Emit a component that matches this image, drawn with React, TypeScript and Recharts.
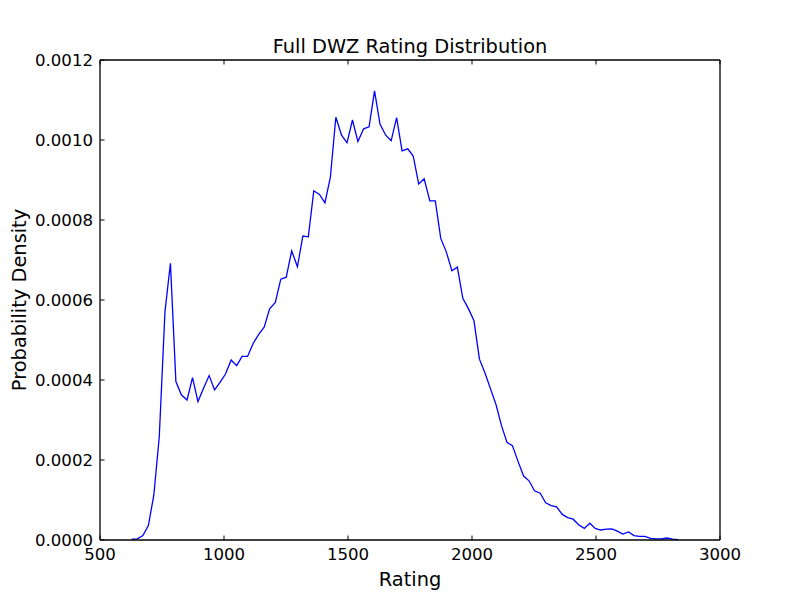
import React from 'react';
import { LineChart, Line, XAxis, YAxis } from 'recharts';

// bin centres of the rating histogram
const ratings = [
  628, 650, 673, 695, 717, 739, 762, 784, 806, 828,
  851, 873, 895, 917, 940, 962, 984, 1006, 1029, 1051,
  1073, 1095, 1118, 1140, 1162, 1184, 1207, 1229, 1251, 1273,
  1296, 1318, 1340, 1362, 1385, 1407, 1429, 1451, 1474, 1496,
  1518, 1540, 1563, 1585, 1607, 1629, 1652, 1674, 1696, 1718,
  1741, 1763, 1785, 1807, 1830, 1852, 1874, 1896, 1919, 1941,
  1963, 1985, 2008, 2030, 2052, 2074, 2097, 2119, 2141, 2163,
  2186, 2208, 2230, 2252, 2275, 2297, 2319, 2341, 2364, 2386,
  2408, 2430, 2453, 2475, 2497, 2519, 2542, 2564, 2586, 2608,
  2631, 2653, 2675, 2697, 2720, 2742, 2764, 2786, 2809, 2831,
];

const density = [
  0.000002, 0.000003, 0.000011, 0.000036, 0.000112, 0.000258, 0.000571, 0.000692, 0.000396, 0.000363,
  0.00035, 0.000406, 0.000346, 0.000379, 0.000411, 0.000375, 0.000394, 0.000415, 0.00045, 0.000436,
  0.000459, 0.000459, 0.000492, 0.000514, 0.000532, 0.000578, 0.000594, 0.000652, 0.000657, 0.000723,
  0.000683, 0.00076, 0.000758, 0.000873, 0.000864, 0.000843, 0.000907, 0.001057, 0.001012, 0.000993,
  0.00105, 0.000996, 0.001028, 0.001033, 0.001123, 0.00104, 0.001012, 0.000998, 0.001056, 0.000973,
  0.000978, 0.00096, 0.00089, 0.000903, 0.000848, 0.000848, 0.000754, 0.000721, 0.000673, 0.000682,
  0.000604, 0.000579, 0.000548, 0.000452, 0.000418, 0.000379, 0.000338, 0.000286, 0.000244, 0.000236,
  0.000196, 0.00016, 0.000148, 0.000123, 0.000117, 0.000093, 0.000086, 0.000083, 0.000064, 0.000056,
  0.000052, 0.000038, 0.000029, 0.000042, 0.000029, 0.000025, 0.000027, 0.000028, 0.000022, 0.000015,
  0.00002, 0.000011, 0.000009, 0.000009, 0.000004, 0.000003, 0.000003, 0.000005, 0.000002, 0.000001,
];

const xTicks = [500, 1000, 1500, 2000, 2500, 3000];
const yTicks = [0, 0.0002, 0.0004, 0.0006, 0.0008, 0.001, 0.0012];

const data = ratings.map((r, i) => ({ rating: r, density: density[i] }));

const FONT = '"DejaVu Sans", sans-serif';
const TICK_LEN = 4.5;
const AXIS_LINE = { stroke: '#000', strokeWidth: 1.3 };

const BottomTick = (props: any) => {
  const { x, y, payload } = props;
  return (
    <g>
      <line x1={x} x2={x} y1={y} y2={y - TICK_LEN} stroke="#000" />
      <text x={x} y={y + 19.5} textAnchor="middle" fontSize={16.6} fontFamily={FONT} fill="#000">
        {payload.value}
      </text>
    </g>
  );
};

const LeftTick = (props: any) => {
  const { x, y, payload } = props;
  return (
    <g>
      <line x1={x} x2={x + TICK_LEN} y1={y} y2={y} stroke="#000" />
      <text x={x - 7} y={y + 6} textAnchor="end" fontSize={16.6} fontFamily={FONT} fill="#000">
        {Number(payload.value).toFixed(4)}
      </text>
    </g>
  );
};

const TopTick = (props: any) => {
  const { x, y } = props;
  return <line x1={x} x2={x} y1={y} y2={y + TICK_LEN} stroke="#000" />;
};

const RightTick = (props: any) => {
  const { x, y } = props;
  return <line x1={x} x2={x - TICK_LEN} y1={y} y2={y} stroke="#000" />;
};

export default function App() {
  return (
    <div style={{ position: 'absolute', left: 0, top: 0, width: 800, height: 600, background: '#fff' }}>
      <LineChart width={800} height={600} data={data} margin={{ top: 59, right: 79, bottom: 0, left: 0 }}>
        <XAxis
          dataKey="rating"
          type="number"
          domain={[500, 3000]}
          ticks={xTicks}
          interval={0}
          height={60}
          tickSize={0}
          tickMargin={0}
          tick={<BottomTick />}
          axisLine={AXIS_LINE}
        />
        <XAxis
          xAxisId="top"
          orientation="top"
          dataKey="rating"
          type="number"
          domain={[500, 3000]}
          ticks={xTicks}
          interval={0}
          height={1}
          tickSize={0}
          tickMargin={0}
          tick={<TopTick />}
          axisLine={AXIS_LINE}
        />
        <YAxis
          type="number"
          domain={[0, 0.0012]}
          ticks={yTicks}
          interval={0}
          width={100}
          tickSize={0}
          tickMargin={0}
          tick={<LeftTick />}
          axisLine={AXIS_LINE}
        />
        <YAxis
          yAxisId="right"
          orientation="right"
          type="number"
          domain={[0, 0.0012]}
          ticks={yTicks}
          interval={0}
          width={1}
          tickSize={0}
          tickMargin={0}
          tick={<RightTick />}
          axisLine={AXIS_LINE}
        />
        <Line
          type="linear"
          dataKey="density"
          stroke="#0000ff"
          strokeWidth={1.3}
          dot={false}
          isAnimationActive={false}
        />
        <text x={410} y={53} textAnchor="middle" fontSize={19.4} fontFamily={FONT} fill="#000">
          Full DWZ Rating Distribution
        </text>
        <text x={410} y={586} textAnchor="middle" fontSize={19.4} fontFamily={FONT} fill="#000">
          Rating
        </text>
        <text
          x={26}
          y={300}
          transform="rotate(-90 26 300)"
          textAnchor="middle"
          fontSize={19.4}
          fontFamily={FONT}
          fill="#000"
        >
          Probability Density
        </text>
      </LineChart>
    </div>
  );
}
